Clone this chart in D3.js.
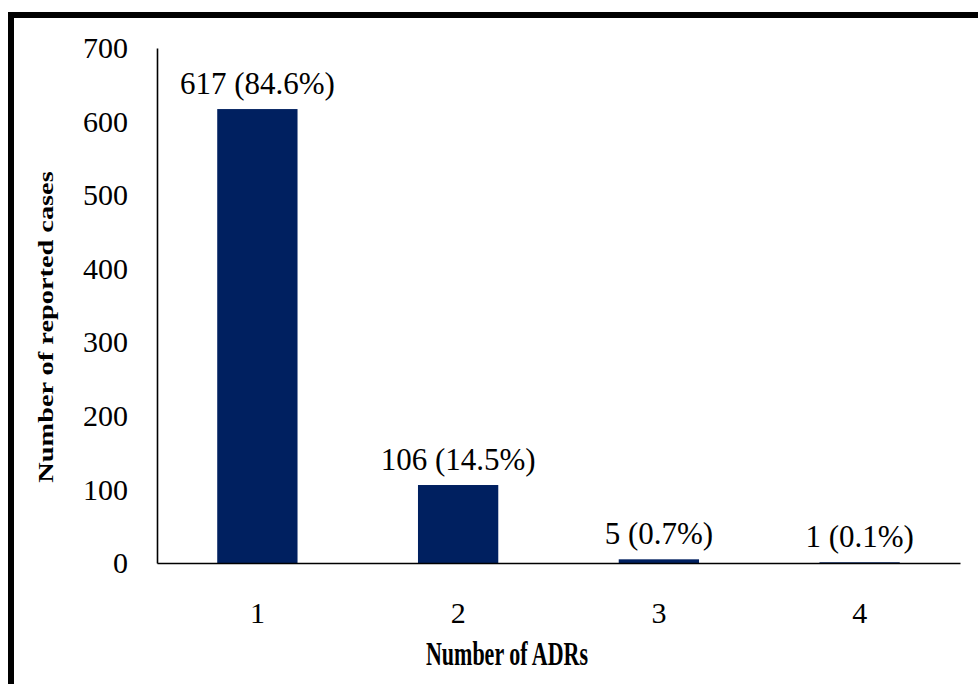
<!DOCTYPE html>
<html>
<head>
<meta charset="utf-8">
<script src="https://cdn.jsdelivr.net/npm/d3@7"></script>
<style>
  html, body { margin: 0; padding: 0; background: #fff; }
  svg { display: block; }
  text { font-family: "Liberation Serif", "Times New Roman", serif; fill: #000; }
</style>
</head>
<body>
<svg id="chart" width="978" height="684"></svg>
<script>
// Number of ADRs per reported case
const categories = ["1", "2", "3", "4"];
const counts = [617, 106, 5, 1];
const percents = ["84.6%", "14.5%", "0.7%", "0.1%"];
const yTicks = [0, 100, 200, 300, 400, 500, 600, 700];

const svg = d3.select("#chart");
const W = 978, H = 684;
const plot = { left: 157, right: 960, top: 48, bottom: 563 };

// frame (top and left edges)
svg.append("rect").attr("x", 8).attr("y", 12).attr("width", W - 8).attr("height", 6).attr("fill", "#000");
svg.append("rect").attr("x", 8).attr("y", 12).attr("width", 6).attr("height", H - 12).attr("fill", "#000");

const x = d3.scaleBand().domain(categories).range([plot.left, plot.right]).padding(0);
const y = d3.scaleLinear().domain([0, 700]).range([plot.bottom, plot.top]);
const barW = x.bandwidth() * 0.4;

// bars
svg.append("g").selectAll("rect")
  .data(categories)
  .join("rect")
  .attr("x", (d) => x(d) + (x.bandwidth() - barW) / 2)
  .attr("width", barW)
  .attr("y", (d, i) => y(counts[i]))
  .attr("height", (d, i) => y(0) - y(counts[i]))
  .attr("fill", "#002060");

// value labels
svg.append("g").selectAll("text")
  .data(categories)
  .join("text")
  .attr("x", (d) => x(d) + x.bandwidth() / 2)
  .attr("y", (d, i) => y(counts[i]) - 15)
  .attr("text-anchor", "middle")
  .style("font-size", "31px")
  .text((d, i) => `${counts[i]} (${percents[i]})`);

// y axis
const yAxis = svg.append("g")
  .attr("transform", `translate(${plot.left},0)`)
  .call(d3.axisLeft(y).tickValues(yTicks).tickSize(0).tickSizeOuter(0).tickPadding(29));
yAxis.select(".domain").attr("stroke", "#000").attr("stroke-width", 1.6);
yAxis.selectAll("text").style("font-size", "30px").style("font-family", '"Liberation Serif", "Times New Roman", serif');

// x axis
const xAxis = svg.append("g")
  .attr("transform", `translate(0,${plot.bottom})`)
  .call(d3.axisBottom(x).tickSize(0).tickSizeOuter(0).tickPadding(39));
xAxis.select(".domain").attr("stroke", "#000").attr("stroke-width", 1.6);
xAxis.selectAll("text").style("font-size", "30px").style("font-family", '"Liberation Serif", "Times New Roman", serif');

// axis titles
svg.append("text")
  .attr("transform", "translate(507,665) scale(1,1.5)")
  .attr("text-anchor", "middle")
  .style("font-size", "22px")
  .style("font-weight", "bold")
  .text("Number of ADRs");

svg.append("text")
  .attr("transform", "translate(53,327) rotate(-90) scale(1.35,1)")
  .attr("text-anchor", "middle")
  .style("font-size", "21px")
  .style("font-weight", "bold")
  .text("Number of reported cases");
</script>
</body>
</html>
